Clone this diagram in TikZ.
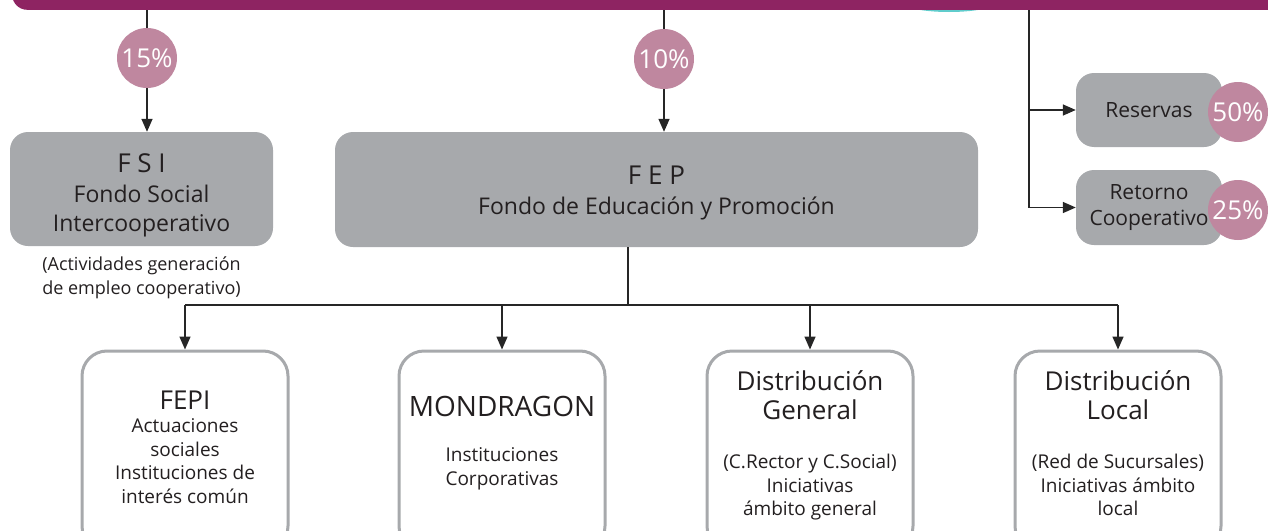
\documentclass[tikz,border=0pt]{standalone}
\usepackage{fontspec}
\setmainfont{Open Sans}
\usetikzlibrary{arrows.meta,positioning}

\definecolor{banda}{RGB}{142,36,98}
\definecolor{malva}{RGB}{191,135,159}
\definecolor{gris}{RGB}{167,169,172}
\definecolor{tinta}{RGB}{35,31,32}
\definecolor{turquesa}{RGB}{96,204,204}

\newcommand{\grande}{\fontsize{26}{29}\selectfont}

\tikzset{
  >={Triangle[length=13pt,width=11pt]},
  fondo/.style={fill=gris, rounded corners=18pt, inner sep=0pt, text=tinta, align=center},
  pct/.style={circle, fill=malva, text=white, minimum size=60pt, inner sep=0pt, font=\fontsize{26}{30}\selectfont},
  caja/.style={draw=gris, line width=3pt, fill=white, rounded corners=25pt, minimum width=206pt, minimum height=200pt},
  letra/.style={text=tinta, align=center, inner sep=0pt, font=\fontsize{19}{23.5}\selectfont},
  flecha/.style={black!85, line width=1.5pt},
}

\begin{document}
\begin{tikzpicture}[x=1pt,y=-1pt]
\path[use as bounding box, clip] (0,0) rectangle (1268,530);

% franja superior
\fill[turquesa] (949,0) ellipse [x radius=52, y radius=12];
\node[fill=banda, rounded corners=15pt, minimum width=1300pt, minimum height=40pt, inner sep=0pt, anchor=south west] (banda) at (12,10) {};

% porcentajes
\node[pct] (c15) at (147,58) {15\%};
\node[pct] (c10) at (664,59) {10\%};

% fondos
\node[fondo, minimum width=263pt, minimum height=114pt] (fsi) at (141.5,189) {};
\node[letra, font=\fontsize{23}{29.5}\selectfont, below=22pt of fsi.north] (fsitxt) {{\grande F S I}\\Fondo Social\\Intercooperativo};
\node[letra, font=\fontsize{18}{24.5}\selectfont, below=10pt of fsi.south] (fsinota) {(Actividades generación\\de empleo cooperativo)};

\node[fondo, minimum width=643pt, minimum height=115pt] (fep) at (656.5,189.5) {};
\node[letra, font=\fontsize{23}{30}\selectfont, below=34pt of fep.north] (feptxt) {{\grande F E P}\\Fondo de Educación y Promoción};

\node[fondo, minimum width=146pt, minimum height=74pt, font=\fontsize{21}{26}\selectfont] (res) at (1149,110) {Reservas};
\node[fondo, minimum width=146pt, minimum height=75pt, font=\fontsize{21}{26}\selectfont] (ret) at (1149,207.5) {Retorno\\Cooperativo};
\node[pct] (c50) at (1238,112) {50\%};
\node[pct] (c25) at (1238,210) {25\%};

% conexiones arriba
\draw[flecha] (banda.south -| c15) -- (c15);
\draw[flecha,->] (c15) -- (c15 |- fsi.north);
\draw[flecha] (banda.south -| c10) -- (c10);
\draw[flecha,->] (c10) -- (c10 |- fep.north);

\coordinate (rama) at (1029,10);
\draw[flecha,->] (rama) |- (ret);
\draw[flecha,->] (rama |- res) -- (res);

% reparto del FEP
\node[caja] (fepi) at (185,451) {};
\node[caja] (mondragon) at (502,451) {};
\node[caja] (dgen) at (810,451) {};
\node[caja] (dloc) at (1118,451) {};

\coordinate (nudo) at (628,305);
\draw[flecha] (fep.south -| nudo) -- (nudo);
\draw[flecha] (fepi |- nudo) -- (dloc |- nudo);
\foreach \b in {fepi,mondragon,dgen,dloc}
  \draw[flecha,->] (\b |- nudo) -- (\b.north);

\node[letra, below=41pt of fepi.north] (fepitxt) {{\grande FEPI}\\Actuaciones\\sociales\\Instituciones de\\interés común};
\node[letra, below=46pt of mondragon.north] (mondragontxt) {{\fontsize{28}{29}\selectfont MONDRAGON}\\[22pt]Instituciones\\Corporativas};
\node[letra, below=21pt of dgen.north] (dgentxt) {{\grande Distribución}\\[5.5pt]{\grande General}\\[25.5pt](C.Rector y C.Social)\\Iniciativas\\ámbito general};
\node[letra, below=21pt of dloc.north] (dloctxt) {{\grande Distribución}\\[5.5pt]{\grande Local}\\[25.5pt](Red de Sucursales)\\Iniciativas ámbito\\local};

\end{tikzpicture}
\end{document}
